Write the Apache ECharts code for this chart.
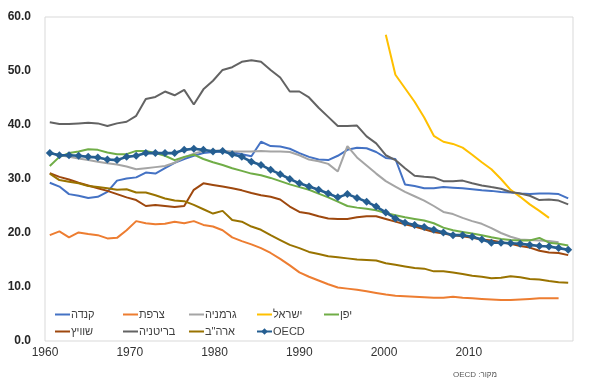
<!DOCTYPE html>
<html>
<head>
<meta charset="utf-8">
<script src="https://cdn.jsdelivr.net/npm/echarts@6/dist/echarts.min.js"></script>
<style>
html,body{margin:0;padding:0;background:#fff;}
#chart{width:590px;height:385px;}
</style>
</head>
<body>
<div id="chart"></div>
<script>
const years = [];
for (let y = 1960; y <= 2014; y++) years.push(String(y));

const xTickLabels = [1960, 1970, 1980, 1990, 2000, 2010];
const yTickLabels = [0, 10, 20, 30, 40, 50, 60];

const canada = [29.3,28.6,27.2,26.9,26.5,26.7,27.6,29.7,30.1,30.3, 31.2,31.0,32.0,33.0,33.7,34.3,34.8,35.0,35.1,35.0, 34.6,34.2,36.9,36.1,36.0,35.6,34.8,34.1,33.6,33.5, 34.3,35.4,35.8,35.7,35.0,33.9,33.7,29.0,28.7,28.3, 28.3,28.5,28.4,28.3,28.1,27.9,27.8,27.6,27.5,27.3, 27.2,27.3,27.3,27.2,26.4];
const france = [19.6,20.3,19.2,20.1,19.8,19.6,19.0,19.1,20.5,22.2, 21.8,21.6,21.7,22.1,21.8,22.2,21.5,21.2,20.5,19.2, 18.5,17.9,17.2,16.3,15.2,14.0,12.7,11.9,11.2,10.5, 9.9,9.7,9.5,9.2,8.9,8.6,8.4,8.3,8.2,8.1, 8.0,8.0,8.2,8.0,7.9,7.8,7.7,7.6,7.6,7.7, 7.8,7.9,7.9,7.9,null];
const germany = [34.8,34.4,34.1,33.8,33.5,33.2,32.9,32.7,32.3,31.8, 32.0,32.2,32.4,33.0,34.0,34.7,35.2,35.3,35.2,35.1, 35.1,35.1,35.2,35.1,35.1,35.0,34.4,33.6,33.3,32.8, 31.4,36.1,34.0,32.5,31.0,29.6,28.6,27.6,26.8,26.0, 25.0,23.9,23.5,22.8,22.2,21.7,20.9,20.0,19.3,18.8, 18.7,18.6,18.5,18.3,null];
const israel = [null,null,null,null,null,null,null,null,null,null, null,null,null,null,null,null,null,null,null,null, null,null,null,null,null,null,null,null,null,null, null,null,null,null,null,56.7,49.3,46.8,44.3,41.4, 38.0,36.9,36.5,35.8,34.5,33.1,31.8,30.0,28.0,26.7, 25.3,24.1,22.8,null,null];
const japan = [32.4,34.1,34.8,35.1,35.5,35.4,34.9,34.6,34.6,35.2, 35.2,34.8,34.3,33.5,34.1,34.5,33.7,33.1,32.6,32.0, 31.5,31.0,30.7,30.2,29.6,29.0,28.5,28.0,27.3,26.6, 25.8,25.0,24.7,24.5,24.2,23.7,23.3,22.9,22.6,22.3, 21.8,21.0,20.5,20.2,19.9,19.6,19.2,18.9,18.7,18.6, 18.6,19.1,18.2,18.0,17.7];
const switzerland = [31.1,30.4,29.9,29.3,28.8,28.3,27.8,27.2,26.6,26.1, 25.0,25.2,25.0,24.8,25.0,28.0,29.2,28.9,28.6,28.3, 27.9,27.4,27.0,26.7,26.2,24.9,23.9,23.6,23.1,22.7, 22.6,22.6,22.9,23.1,23.1,22.6,22.1,21.6,21.2,20.7, 20.2,19.9,19.6,19.4,19.1,18.8,18.6,18.3,18.0,17.6, 17.3,16.7,16.4,16.3,15.9];
const britain = [40.5,40.2,40.2,40.3,40.4,40.3,39.8,40.3,40.6,41.7, 44.8,45.2,46.2,45.5,46.5,43.8,46.6,48.2,50.2,50.7, 51.7,52.0,51.7,50.2,48.8,46.2,46.2,45.1,43.2,41.5, 39.8,39.8,39.9,37.9,36.6,34.4,33.5,32.0,30.6,30.4, 30.3,29.6,29.6,29.7,29.2,28.8,28.5,28.2,27.6,27.3, 26.9,26.1,26.2,26.0,25.3];
const usa = [31.0,29.8,29.5,29.2,28.7,28.5,28.3,28.0,28.1,27.5, 27.5,27.0,26.4,26.0,25.9,25.2,24.4,23.6,24.1,22.4, 22.1,21.2,20.6,19.6,18.7,17.8,17.2,16.5,16.1,15.7, 15.5,15.3,15.1,15.0,14.9,14.4,14.1,13.8,13.5,13.4, 12.9,12.9,12.7,12.4,12.1,11.9,11.6,11.7,12.0,11.8, 11.5,11.4,11.1,10.9,10.8];
const oecd = [34.8,34.4,34.4,34.3,34.1,34.0,33.6,33.5,34.1,34.3, 34.8,34.8,34.8,34.8,35.4,35.6,35.4,35.1,35.2,34.6, 34.1,33.2,32.6,31.7,30.9,30.0,29.2,28.6,28.0,27.3, 26.6,27.2,26.5,25.8,24.9,23.8,22.7,21.9,21.5,21.1, 20.6,20.1,19.6,19.6,19.3,18.8,18.2,18.2,18.1,18.0, 17.8,17.6,17.5,17.2,16.9];

const seriesNames = ['קנדה','צרפת','גרמניה','ישראל','יפן','שוויץ','בריטניה','ארה"ב','OECD'];
const seriesData = [canada, france, germany, israel, japan, switzerland, britain, usa, oecd];
const seriesColors = ['#4472C4','#ED7D31','#A5A5A5','#FFC000','#70AD47','#9E480E','#636363','#997300','#255E91'];
const sourceText = 'OECD :מקור';

const FONT = '"Liberation Sans", "DejaVu Sans", Arial, sans-serif';

const series = seriesNames.map((name, i) => {
  const isOecd = name === 'OECD';
  return {
    name: name,
    type: 'line',
    xAxisIndex: 0,
    data: seriesData[i],
    symbol: isOecd ? 'diamond' : 'none',
    symbolSize: isOecd ? 8 : 0,
    showSymbol: isOecd,
    showAllSymbol: true,
    connectNulls: false,
    z: isOecd ? 10 : 2,
    lineStyle: { color: seriesColors[i], width: isOecd ? 2.6 : 2 },
    itemStyle: { color: seriesColors[i] },
    emphasis: { disabled: true }
  };
});

// legend layout: 5 columns x 2 rows
const legendCols = [54, 122, 188, 256, 323];
const legendRows = [309, 326];
const legends = seriesNames.map((name, i) => {
  const isOecd = name === 'OECD';
  return {
    data: [isOecd ? { name: name } : { name: name, itemStyle: { opacity: 0 } }],
    left: legendCols[i % 5],
    top: legendRows[Math.floor(i / 5)],
    padding: 0,
    itemWidth: 15, itemHeight: 8, itemGap: 0,
    selectedMode: false,
    textStyle: { color: '#404040', fontSize: 11, fontFamily: FONT, padding: [0, 0, 0, -4] }
  };
});

const chart = echarts.init(document.getElementById('chart'), null, { renderer: 'canvas' });
chart.setOption({
  animation: false,
  backgroundColor: '#ffffff',
  textStyle: { fontFamily: FONT },
  grid: {
    left: 45, top: 17, width: 528, height: 324,
    show: true, borderColor: '#d9d9d9', borderWidth: 1, backgroundColor: '#ffffff'
  },
  legend: legends,
  xAxis: [
    {
      type: 'category', data: years, boundaryGap: true,
      axisLine: { show: false }, axisTick: { show: false }, axisLabel: { show: false },
      splitLine: { show: false }
    },
    {
      type: 'value', min: 1960, max: 2022.3, interval: 10, position: 'bottom',
      axisLine: { show: false }, axisTick: { show: false }, splitLine: { show: false },
      axisLabel: {
        margin: 6, fontSize: 12, color: '#333333', fontFamily: FONT,
        formatter: v => xTickLabels.indexOf(v) >= 0 ? String(v) : ''
      }
    }
  ],
  yAxis: {
    type: 'value', min: 0, max: 60, interval: 10,
    axisLine: { show: false }, axisTick: { show: false }, splitLine: { show: false },
    axisLabel: {
      margin: 14, fontSize: 12, fontWeight: 'bold', color: '#262626', fontFamily: FONT,
      formatter: v => yTickLabels.indexOf(v) >= 0 ? v.toFixed(1) : ''
    }
  },
  graphic: [
    {
      type: 'text', right: 93, top: 371,
      style: { text: sourceText, fontSize: 8, fill: '#595959', font: '8px ' + FONT }
    }
  ],
  series: series
});
</script>
</body>
</html>
